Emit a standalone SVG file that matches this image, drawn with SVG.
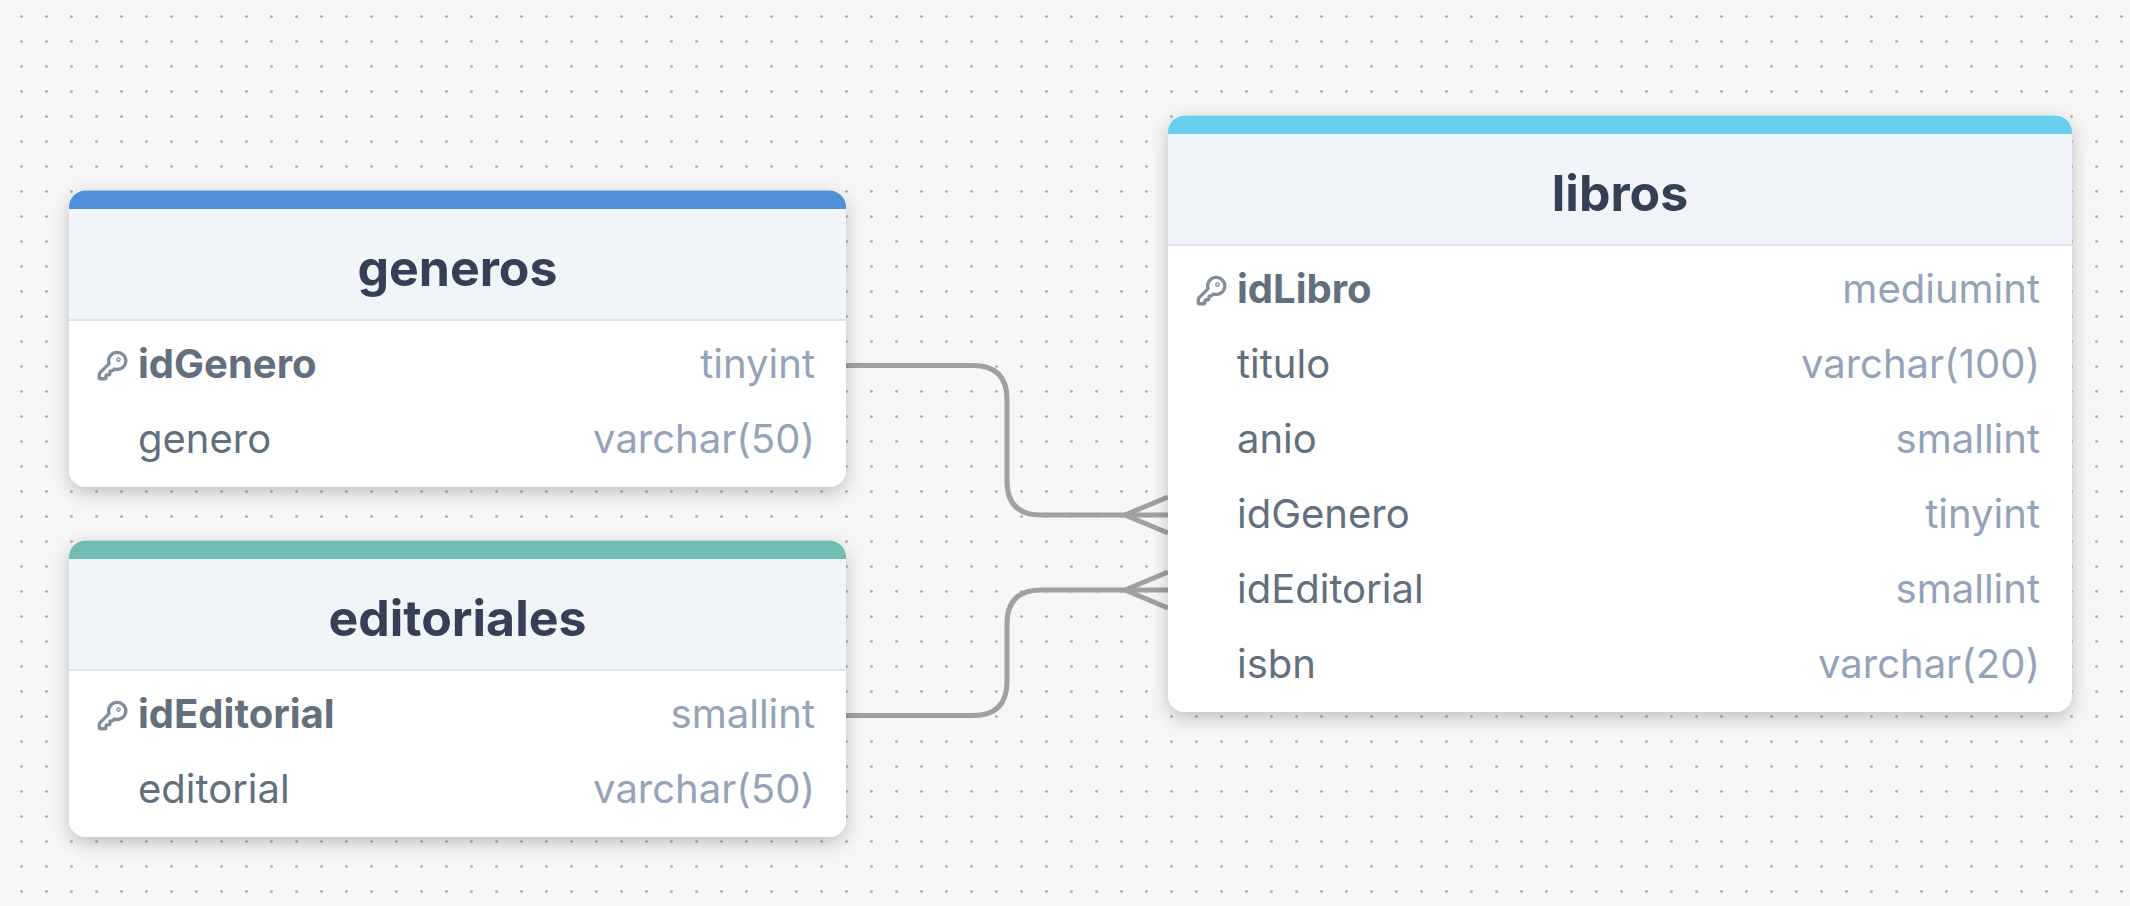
<svg xmlns="http://www.w3.org/2000/svg" xmlns:xlink="http://www.w3.org/1999/xlink" width="2130" height="906" viewBox="0 0 2130 906">
<style>
text{font-family:Inter,"Liberation Sans",sans-serif}
.title{font-size:50px;font-weight:700;fill:#354056;text-anchor:middle}
.n{font-size:40px;fill:#626f7d}
.pk{font-weight:700}
.t{font-size:40px;fill:#94a3b8;text-anchor:end}
.hd{fill:#f1f5fa}
.ln{fill:#dde4ee}
.card{fill:#fff;filter:url(#sh)}
.edge{fill:none;stroke:#a0a0a0;stroke-width:5}
.key{fill:none;stroke:#808d9c;stroke-width:2.500;stroke-linecap:round;stroke-linejoin:round}
</style>
<defs>
<pattern id="dots" x="9" y="4" width="25" height="25" patternUnits="userSpaceOnUse"><circle cx="12.5" cy="12.5" r="1.35" fill="#a4a4a4"/></pattern>
<filter id="sh" x="-10%" y="-15%" width="120%" height="135%"><feDropShadow dx="0" dy="6" stdDeviation="9" flood-color="#000" flood-opacity=".22"/></filter>
<g id="keyicon"><path class="key" d="M2.586 17.414A2 2 0 0 0 2 18.828V21a1 1 0 0 0 1 1h3a1 1 0 0 0 1-1v-1a1 1 0 0 1 1-1h1a1 1 0 0 0 1-1v-1a1 1 0 0 1 1-1h.172a2 2 0 0 0 1.414-.586l.814-.814a6.5 6.5 0 1 0-4-4z"/><circle class="key" cx="16.5" cy="7.5" r=".5" fill="#808d9c"/></g>
</defs>
<rect width="2130" height="906" fill="#f6f6f6"/>
<rect width="2130" height="906" fill="url(#dots)"/>
<g id="connectors">
<path class="edge" d="M846 365.500H973Q1007 365.500 1007 399.500V481Q1007 515 1041 515H1168"/>
<path class="edge" d="M1125 515L1168 497M1125 515L1168 533"/>
<path class="edge" d="M846 715.500H973Q1007 715.500 1007 681.500V624Q1007 590 1041 590H1168"/>
<path class="edge" d="M1125 590L1168 572M1125 590L1168 608"/>
</g>
<g id="generos">
<rect class="card" x="69" y="190" width="777" height="297" rx="16.700"/>
<path d="M69 320V207A16.700 16.700 0 0 1 85.700 190.500H829.300A16.700 16.700 0 0 1 846 207V320Z" class="hd"/>
<path d="M69 209V207A16.700 16.700 0 0 1 85.700 190.500H829.300A16.700 16.700 0 0 1 846 207V209Z" fill="#4f8fd8"/>
<rect class="ln" x="69" y="319" width="777" height="2"/>
<text class="title" x="457.500" y="285.800">generos</text>
<use xlink:href="#keyicon" href="#keyicon" transform="translate(96.700 349.700) scale(1.32)"/>
<text class="n pk" x="138" y="378">idGenero</text><text class="t" x="815" y="378">tinyint</text>
<text class="n" x="138" y="453">genero</text><text class="t" x="815" y="453">varchar(50)</text>
</g>
<g id="editoriales">
<rect class="card" x="69" y="540" width="777" height="297" rx="16.700"/>
<path d="M69 670V557A16.700 16.700 0 0 1 85.700 540.500H829.300A16.700 16.700 0 0 1 846 557V670Z" class="hd"/>
<path d="M69 559V557A16.700 16.700 0 0 1 85.700 540.500H829.300A16.700 16.700 0 0 1 846 557V559Z" fill="#70bdb3"/>
<rect class="ln" x="69" y="669" width="777" height="2"/>
<text class="title" x="457.500" y="635.800">editoriales</text>
<use xlink:href="#keyicon" href="#keyicon" transform="translate(96.700 699.700) scale(1.32)"/>
<text class="n pk" x="138" y="728">idEditorial</text><text class="t" x="815" y="728">smallint</text>
<text class="n" x="138" y="803">editorial</text><text class="t" x="815" y="803">varchar(50)</text>
</g>
<g id="libros">
<rect class="card" x="1168" y="115" width="904" height="597" rx="16.700"/>
<path d="M1168 245V132A16.700 16.700 0 0 1 1184.700 115.500H2055.300A16.700 16.700 0 0 1 2072 132V245Z" class="hd"/>
<path d="M1168 134V132A16.700 16.700 0 0 1 1184.700 115.500H2055.300A16.700 16.700 0 0 1 2072 132V134Z" fill="#68d0ee"/>
<rect class="ln" x="1168" y="244" width="904" height="2"/>
<text class="title" x="1620" y="210.800">libros</text>
<use xlink:href="#keyicon" href="#keyicon" transform="translate(1195.700 274.700) scale(1.32)"/>
<text class="n pk" x="1237" y="303">idLibro</text><text class="t" x="2040" y="303">mediumint</text>
<text class="n" x="1237" y="378">titulo</text><text class="t" x="2040" y="378">varchar(100)</text>
<text class="n" x="1237" y="453">anio</text><text class="t" x="2040" y="453">smallint</text>
<text class="n" x="1237" y="528">idGenero</text><text class="t" x="2040" y="528">tinyint</text>
<text class="n" x="1237" y="603">idEditorial</text><text class="t" x="2040" y="603">smallint</text>
<text class="n" x="1237" y="678">isbn</text><text class="t" x="2040" y="678">varchar(20)</text>
</g>
</svg>
